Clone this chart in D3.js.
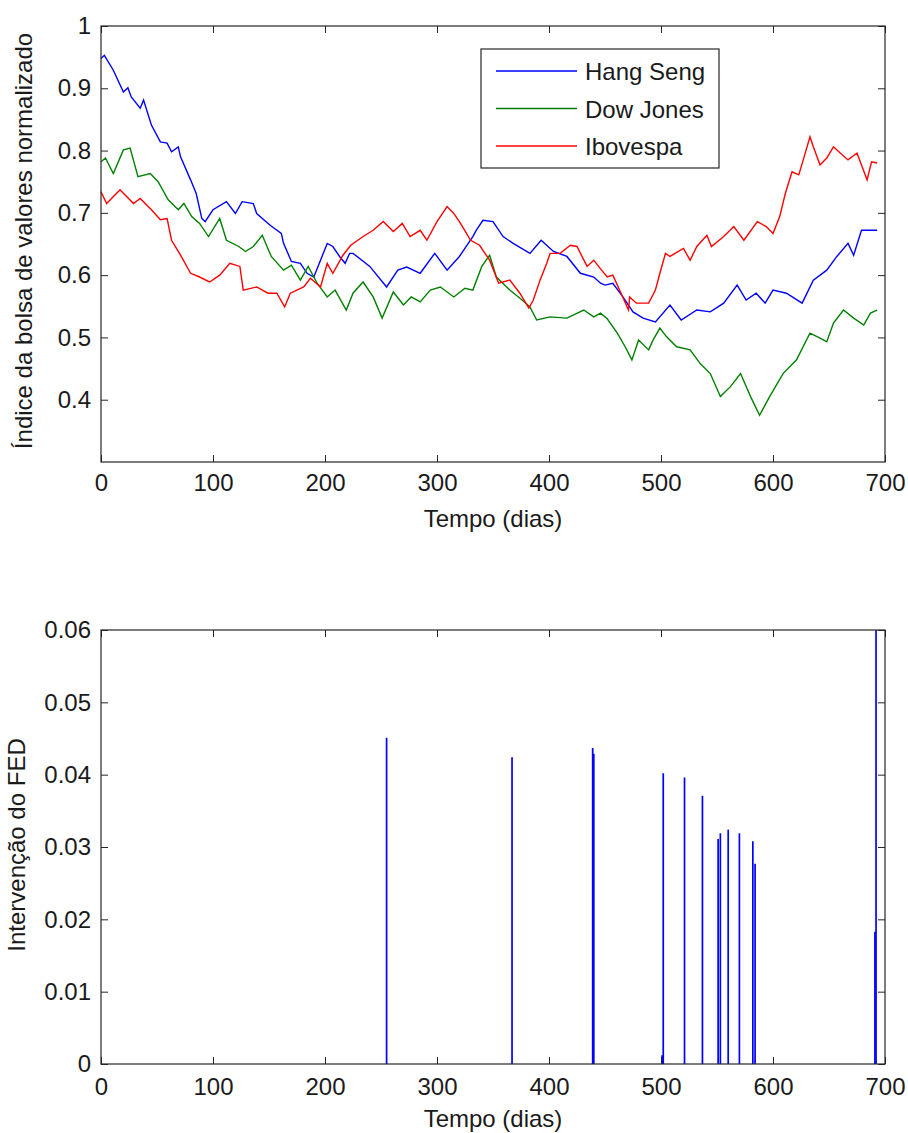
<!DOCTYPE html>
<html>
<head>
<meta charset="utf-8">
<script src="https://cdn.jsdelivr.net/npm/d3@7"></script>
<style>
  body { margin: 0; background: #fff; }
  svg text { font-family: "Liberation Sans", Arial, sans-serif; fill: #1a1a1a; }
  .axis path, .axis line { stroke: #262626; }
</style>
</head>
<body>
<svg id="chart" width="908" height="1133"></svg>
<script>
// values: [day, normalised index]
const hangSeng = [[0,0.948],[3,0.953],[11,0.929],[20,0.894],[24,0.901],[27,0.886],[35,0.868],[38,0.881],[45,0.841],[53,0.814],[59,0.812],[63,0.798],[69,0.806],[71,0.790],[80,0.753],[85,0.731],[90,0.691],[93,0.686],[100,0.705],[112,0.718],[120,0.699],[126,0.718],[136,0.715],[139,0.699],[151,0.680],[161,0.667],[163,0.651],[170,0.622],[178,0.619],[184,0.603],[190,0.597],[196,0.624],[202,0.651],[207,0.646],[213,0.630],[218,0.619],[222,0.635],[225,0.635],[240,0.614],[255,0.581],[265,0.608],[273,0.613],[285,0.603],[298,0.635],[309,0.608],[320,0.630],[332,0.662],[335,0.672],[341,0.688],[350,0.686],[359,0.662],[368,0.651],[383,0.635],[393,0.656],[404,0.638],[416,0.630],[428,0.603],[440,0.597],[446,0.587],[450,0.584],[457,0.587],[466,0.565],[475,0.541],[484,0.531],[495,0.525],[508,0.552],[518,0.528],[532,0.544],[544,0.541],[556,0.555],[568,0.584],[576,0.560],[585,0.571],[593,0.555],[600,0.576],[612,0.571],[626,0.555],[636,0.592],[648,0.608],[657,0.630],[667,0.651],[672,0.632],[679,0.672],[687,0.672],[693,0.672]];
const dowJones = [[0,0.782],[4,0.788],[11,0.763],[20,0.801],[26,0.804],[33,0.758],[44,0.763],[51,0.750],[60,0.721],[69,0.705],[74,0.715],[81,0.694],[88,0.683],[96,0.662],[106,0.691],[112,0.656],[123,0.646],[129,0.638],[136,0.646],[144,0.664],[152,0.630],[163,0.608],[170,0.616],[178,0.592],[185,0.614],[193,0.587],[202,0.565],[209,0.576],[219,0.544],[225,0.571],[234,0.589],[243,0.565],[251,0.531],[261,0.573],[270,0.552],[277,0.565],[285,0.557],[294,0.576],[303,0.581],[315,0.565],[325,0.579],[332,0.576],[340,0.614],[347,0.632],[353,0.597],[365,0.576],[376,0.560],[383,0.549],[389,0.528],[401,0.533],[416,0.531],[431,0.544],[440,0.533],[446,0.539],[452,0.530],[461,0.507],[468,0.485],[474,0.464],[480,0.496],[489,0.480],[493,0.496],[499,0.515],[505,0.501],[514,0.485],[526,0.480],[535,0.458],[544,0.442],[553,0.405],[562,0.421],[571,0.442],[580,0.405],[588,0.375],[597,0.405],[609,0.442],[621,0.464],[633,0.507],[642,0.499],[648,0.493],[654,0.523],[663,0.544],[672,0.531],[681,0.520],[687,0.539],[693,0.544]];
const ibovespa = [[0,0.734],[5,0.715],[17,0.737],[29,0.715],[35,0.723],[45,0.705],[53,0.689],[59,0.691],[63,0.656],[71,0.632],[80,0.603],[88,0.597],[97,0.589],[106,0.600],[115,0.619],[124,0.614],[127,0.576],[139,0.581],[149,0.571],[157,0.571],[164,0.549],[169,0.571],[181,0.581],[187,0.595],[196,0.581],[202,0.619],[207,0.603],[216,0.632],[223,0.648],[234,0.662],[243,0.672],[252,0.686],[261,0.670],[269,0.683],[276,0.662],[285,0.672],[291,0.656],[300,0.686],[309,0.710],[315,0.699],[321,0.683],[330,0.656],[338,0.648],[347,0.624],[355,0.587],[365,0.592],[374,0.571],[382,0.547],[386,0.560],[392,0.592],[398,0.619],[401,0.635],[410,0.635],[419,0.648],[425,0.646],[434,0.614],[440,0.624],[446,0.610],[452,0.597],[457,0.600],[465,0.568],[471,0.544],[472,0.565],[478,0.555],[489,0.555],[495,0.576],[499,0.603],[504,0.635],[508,0.630],[520,0.643],[526,0.624],[532,0.646],[541,0.664],[545,0.646],[556,0.662],[565,0.678],[574,0.656],[586,0.686],[594,0.678],[600,0.667],[606,0.694],[611,0.731],[617,0.766],[623,0.761],[627,0.785],[633,0.822],[636,0.806],[642,0.777],[648,0.788],[654,0.806],[660,0.796],[667,0.785],[675,0.796],[684,0.753],[688,0.782],[693,0.780]];

const seriesNames = ["Hang Seng", "Dow Jones", "Ibovespa"];
const seriesColors = ["#0000ff", "#008000", "#ff0000"];

// FED intervention (day, size)
const fedDays   = [255, 367, 439, 440, 501, 502, 521, 537, 551, 553, 560, 570, 582, 584, 691, 692];
const fedValues = [0.0451, 0.0424, 0.0437, 0.0429, 0.0012, 0.0402, 0.0396, 0.0371, 0.0311, 0.0319, 0.0324, 0.0319, 0.0308, 0.0277, 0.0183, 0.0600];

const xTicks = [0, 100, 200, 300, 400, 500, 600, 700];
const yTicksTop = [0.4, 0.5, 0.6, 0.7, 0.8, 0.9, 1];
const yTicksBottom = [0, 0.01, 0.02, 0.03, 0.04, 0.05, 0.06];

const svg = d3.select("#chart");
const fontSize = "24px";

function drawFrame(g, x, y, w, h, yTicks, yFormat, xPad) {
  // inward ticks on all four sides, like MATLAB
  g.append("g").attr("class", "axis")
    .attr("transform", `translate(0,${h})`)
    .call(d3.axisBottom(x).tickValues(xTicks).tickSizeInner(-7).tickSizeOuter(0).tickPadding(xPad).tickFormat(d3.format("d")))
    .call(a => a.selectAll("text").style("font-size", fontSize));
  g.append("g").attr("class", "axis")
    .call(d3.axisTop(x).tickValues(xTicks).tickSizeInner(-7).tickSizeOuter(0).tickFormat(""));
  g.append("g").attr("class", "axis")
    .call(d3.axisLeft(y).tickValues(yTicks).tickSizeInner(-7).tickSizeOuter(0).tickPadding(10).tickFormat(yFormat))
    .call(a => a.selectAll("text").style("font-size", fontSize));
  g.append("g").attr("class", "axis")
    .attr("transform", `translate(${w},0)`)
    .call(d3.axisRight(y).tickValues(yTicks).tickSizeInner(-7).tickSizeOuter(0).tickFormat(""));
  g.selectAll(".axis path.domain").remove();
  g.append("rect")
    .attr("width", w).attr("height", h)
    .attr("fill", "none").attr("stroke", "#262626").attr("stroke-width", 1.2);
}

// ---------- top panel ----------
const top1 = { left: 101, top: 26, width: 784, height: 436 };
const g1 = svg.append("g").attr("transform", `translate(${top1.left},${top1.top})`);
const x1 = d3.scaleLinear().domain([0, 700]).range([0, top1.width]);
const y1 = d3.scaleLinear().domain([0.3, 1]).range([top1.height, 0]);

const line = d3.line().x(d => x1(d[0])).y(d => y1(d[1]));
[hangSeng, dowJones, ibovespa].forEach((s, i) => {
  g1.append("path")
    .datum(s)
    .attr("d", line)
    .attr("fill", "none")
    .attr("stroke", seriesColors[i])
    .attr("stroke-width", 1.4);
});

drawFrame(g1, x1, y1, top1.width, top1.height, yTicksTop, d => d3.format("")(+d.toFixed(1)), 12);

// legend
const legend = g1.append("g").attr("transform", `translate(${481 - top1.left},${49 - top1.top})`);
legend.append("rect")
  .attr("width", 238).attr("height", 119)
  .attr("fill", "#fff").attr("stroke", "#262626").attr("stroke-width", 1.2);
seriesNames.forEach((name, i) => {
  const ly = 22 + i * 37.5;
  legend.append("line")
    .attr("x1", 15).attr("x2", 96).attr("y1", ly).attr("y2", ly)
    .attr("stroke", seriesColors[i]).attr("stroke-width", 1.4);
  legend.append("text")
    .attr("x", 104).attr("y", ly + 9)
    .style("font-size", fontSize)
    .text(name);
});

svg.append("text")
  .attr("x", top1.left + top1.width / 2).attr("y", 527)
  .attr("text-anchor", "middle").style("font-size", fontSize)
  .text("Tempo (dias)");
svg.append("text")
  .attr("transform", `translate(32,241) rotate(-90)`)
  .attr("text-anchor", "middle").style("font-size", fontSize)
  .text("Índice da bolsa de valores normalizado");

// ---------- bottom panel ----------
const bot = { left: 101, top: 630, width: 784, height: 434 };
const g2 = svg.append("g").attr("transform", `translate(${bot.left},${bot.top})`);
const x2 = d3.scaleLinear().domain([0, 700]).range([0, bot.width]);
const y2 = d3.scaleLinear().domain([0, 0.06]).range([bot.height, 0]);

g2.selectAll(".fed")
  .data(fedDays.map((d, i) => ({ day: d, value: fedValues[i] })))
  .enter()
  .append("line")
  .attr("class", "fed")
  .attr("x1", d => x2(d.day)).attr("x2", d => x2(d.day))
  .attr("y1", y2(0)).attr("y2", d => y2(Math.min(d.value, 0.06)))
  .attr("stroke", "#0000ff")
  .attr("stroke-width", 1.7);

drawFrame(g2, x2, y2, bot.width, bot.height, yTicksBottom, d => d === 0 ? "0" : d3.format(".2f")(d), 14);

svg.append("text")
  .attr("x", bot.left + bot.width / 2).attr("y", 1127)
  .attr("text-anchor", "middle").style("font-size", fontSize)
  .text("Tempo (dias)");
svg.append("text")
  .attr("transform", `translate(25,845) rotate(-90)`)
  .attr("text-anchor", "middle").style("font-size", fontSize)
  .text("Intervenção do FED");
</script>
</body>
</html>
